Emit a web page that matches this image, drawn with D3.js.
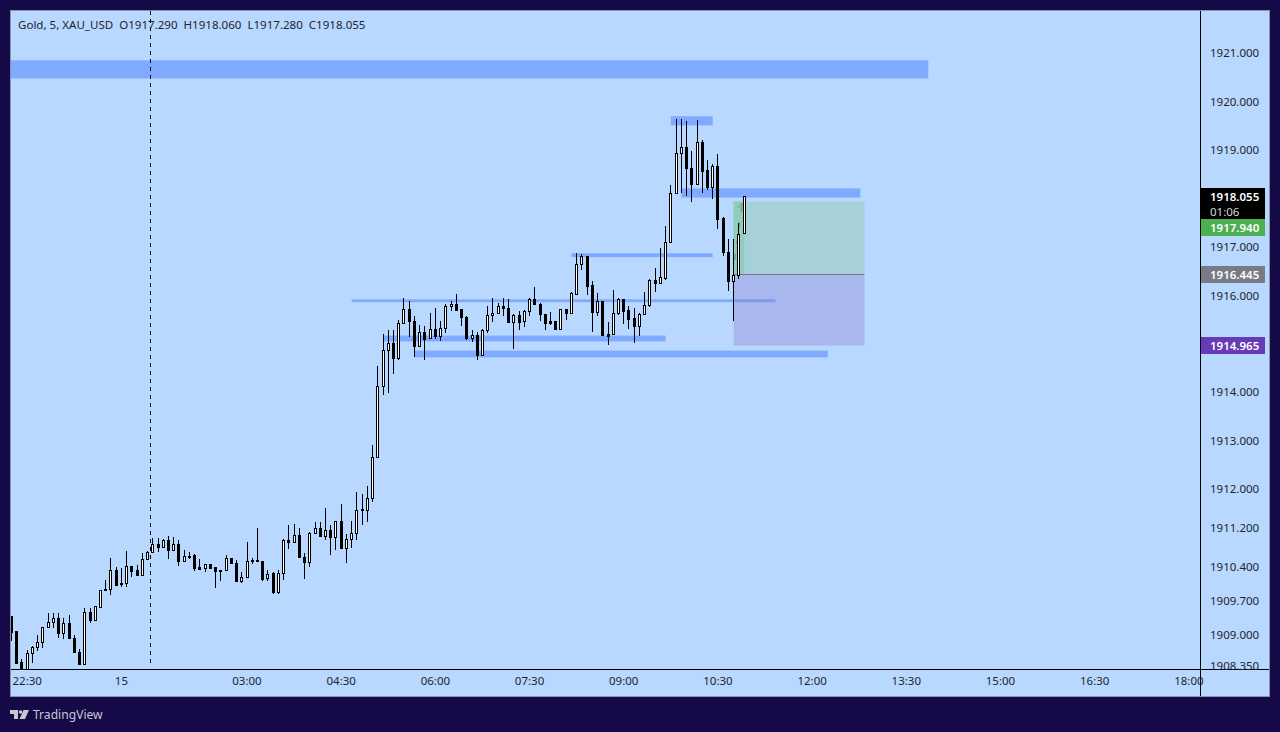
<!DOCTYPE html>
<html><head><meta charset="utf-8">
<script src="https://cdn.jsdelivr.net/npm/d3@7/dist/d3.min.js"></script>
<style>html,body{margin:0;padding:0;background:#150a47;overflow:hidden}svg{display:block}text{font-family:"Noto Sans",sans-serif}</style>
</head><body><svg id="c" width="1280" height="732"></svg>
<script>
const firstBar = -45;
const opens = [1909.37,1909.06,1908.42,1908.27,1908.61,1908.73,1908.84,1909.15,1909.25,1909.34,
1909.02,1909.24,1908.93,1908.64,1908.38,1909.46,1909.30,1909.57,1909.94,1909.93,
1910.33,1910.07,1910.06,1910.41,1910.32,1910.22,1910.55,1910.70,1910.87,1910.80,
1910.95,1910.74,1910.87,1910.51,1910.61,1910.63,1910.40,1910.37,1910.46,1910.39,
1910.34,1910.33,1910.58,1910.48,1910.11,1910.18,1910.52,1910.53,1910.52,1910.16,
1910.26,1909.88,1910.27,1910.95,1910.90,1911.05,1910.60,1910.49,1911.09,1911.20,
1911.03,1911.16,1911.01,1911.34,1910.78,1910.96,1911.09,1911.57,1911.56,1911.81,
1912.67,1914.13,1914.88,1915.02,1914.70,1915.42,1915.72,1915.48,1914.95,1915.25,
1915.12,1915.31,1915.17,1915.32,1915.78,1915.83,1915.71,1915.56,1915.12,1915.19,
1914.77,1915.28,1915.59,1915.64,1915.79,1915.75,1915.45,1915.60,1915.47,1915.68,
1915.93,1915.83,1915.62,1915.48,1915.48,1915.30,1915.72,1915.63,1916.03,1916.65,
1916.82,1916.21,1915.65,1915.89,1915.21,1915.20,1915.63,1915.93,1915.69,1915.54,
1915.37,1915.61,1915.80,1916.32,1916.25,1916.36,1917.11,1918.12,1918.95,1919.07,
1918.64,1918.30,1919.16,1918.58,1918.23,1918.68,1917.59,1916.90,1916.30,1916.43,1917.29];
const highs = [1909.39,1909.06,1908.50,1908.67,1908.77,1908.99,1909.16,1909.45,1909.45,1909.45,
1909.34,1909.40,1908.99,1908.70,1909.55,1909.55,1909.59,1909.92,1910.13,1910.58,
1910.40,1910.37,1910.73,1910.42,1910.44,1910.69,1910.73,1911.00,1911.00,1910.97,
1911.04,1911.02,1910.94,1910.75,1910.70,1910.67,1910.55,1910.45,1910.46,1910.39,
1910.34,1910.63,1910.58,1910.54,1910.28,1910.90,1910.58,1911.19,1910.52,1910.34,
1910.28,1910.34,1910.98,1911.25,1911.28,1911.19,1910.68,1911.12,1911.33,1911.33,
1911.62,1911.25,1911.34,1911.70,1911.08,1911.35,1911.95,1911.89,1912.07,1912.92,
1914.55,1915.21,1915.28,1915.28,1915.50,1915.95,1915.89,1915.57,1915.38,1915.36,
1915.63,1915.73,1915.48,1915.83,1915.88,1916.02,1915.71,1915.58,1915.29,1915.24,
1915.31,1915.79,1915.94,1915.85,1915.94,1915.93,1915.62,1915.67,1915.70,1915.95,
1916.18,1915.85,1915.62,1915.65,1915.48,1915.72,1915.72,1916.06,1916.88,1916.86,
1916.82,1916.29,1916.04,1915.89,1915.46,1916.12,1915.95,1915.93,1915.79,1915.73,
1915.64,1916.08,1916.34,1916.56,1916.97,1917.43,1918.27,1919.65,1919.64,1919.60,
1918.98,1919.62,1919.20,1918.79,1918.72,1918.93,1917.61,1917.16,1917.16,1917.49,1918.06];
const lows = [1908.89,1908.40,1908.27,1908.27,1908.44,1908.67,1908.75,1909.15,1909.15,1908.94,
1908.92,1908.92,1908.63,1908.38,1908.38,1909.25,1909.30,1909.56,1909.91,1909.83,
1910.01,1909.99,1909.99,1910.20,1910.22,1910.22,1910.55,1910.70,1910.72,1910.80,
1910.57,1910.74,1910.43,1910.51,1910.57,1910.32,1910.35,1910.30,1910.38,1909.97,
1910.13,1910.33,1910.47,1910.11,1910.08,1910.18,1910.47,1910.51,1910.13,1910.13,
1909.86,1909.86,1910.15,1910.79,1910.90,1910.59,1910.17,1910.42,1911.09,1911.03,
1910.98,1910.67,1910.77,1910.78,1910.50,1910.81,1910.96,1911.27,1911.35,1911.76,
1912.67,1913.97,1914.00,1914.39,1914.68,1915.42,1915.17,1914.74,1914.95,1914.68,
1915.12,1915.13,1915.07,1915.24,1915.69,1915.70,1915.38,1915.10,1915.06,1914.68,
1914.77,1915.24,1915.48,1915.64,1915.59,1915.45,1914.91,1915.30,1915.37,1915.59,
1915.82,1915.50,1915.30,1915.40,1915.30,1915.30,1915.52,1915.63,1916.03,1916.54,
1916.02,1915.26,1915.59,1915.18,1914.99,1915.20,1915.62,1915.43,1915.33,1915.03,
1915.19,1915.61,1915.78,1916.10,1916.25,1916.33,1917.11,1918.12,1918.13,1918.07,
1917.94,1918.30,1918.13,1918.19,1918.01,1917.40,1916.83,1916.12,1915.50,1916.35,1917.28];
const closes = [1909.05,1908.40,1908.27,1908.62,1908.75,1908.85,1909.15,1909.26,1909.34,1909.02,
1909.24,1908.92,1908.63,1908.38,1909.46,1909.29,1909.59,1909.92,1909.91,1910.33,
1910.03,1910.04,1910.41,1910.30,1910.22,1910.56,1910.71,1910.87,1910.80,1910.95,
1910.74,1910.87,1910.51,1910.62,1910.62,1910.37,1910.35,1910.45,1910.38,1910.30,
1910.30,1910.58,1910.47,1910.11,1910.19,1910.52,1910.53,1910.51,1910.15,1910.25,
1909.88,1910.27,1910.95,1910.90,1911.05,1910.59,1910.49,1911.10,1911.20,1911.03,
1911.16,1911.01,1911.34,1910.78,1910.97,1911.10,1911.57,1911.58,1911.82,1912.67,
1914.13,1914.88,1915.02,1914.70,1915.42,1915.72,1915.47,1914.95,1915.25,1915.11,
1915.31,1915.16,1915.33,1915.79,1915.83,1915.70,1915.55,1915.12,1915.19,1914.77,
1915.29,1915.60,1915.64,1915.79,1915.74,1915.45,1915.60,1915.46,1915.68,1915.93,
1915.82,1915.61,1915.44,1915.44,1915.30,1915.72,1915.63,1916.04,1916.65,1916.82,
1916.19,1915.66,1915.89,1915.18,1915.17,1915.64,1915.93,1915.68,1915.52,1915.36,
1915.62,1915.81,1916.32,1916.25,1916.37,1917.11,1918.12,1918.95,1919.07,1918.63,
1918.30,1919.16,1918.57,1918.23,1918.68,1917.57,1916.89,1916.30,1916.43,1917.27,1918.055];

const xTickBars = [-42,-24,0,18,36,54,72,90,108,126,144,162,180];
const xTickLabels = ["22:30","15","03:00","04:30","06:00","07:30","09:00","10:30","12:00","13:30","15:00","16:30","18:00"];
const yTicks = [1921,1920,1919,1917,1916,1914,1913,1912,1911.2,1910.4,1909.7,1909,1908.35];

// zones: from bar, to bar, top price, bottom price
const zoneStart = [-60,81,83,62,20,26,32];
const zoneEnd   = [130.2,89,117.2,89,101,80,111];
const zoneTop   = [1920.855,1919.70,1918.21,1916.87,1915.92,1915.17,1914.86];
const zoneBot   = [1920.48,1919.51,1918.02,1916.79,1915.86,1915.05,1914.72];

const posStart = 93, posEnd = 118, posNow = 95;
const target = 1917.94, entry = 1916.445, stop = 1914.965, last = 1918.055;
const cursorBar = -18.5;
const headerText = "Gold, 5, XAU_USD  O1917.290  H1918.060  L1917.280  C1918.055";

const svg = d3.select("#c");
const plot = {l:11,t:11,r:1200,b:669};
const X = d3.scaleLinear().domain([0,95]).range([247,744.1]);
const Y = d3.scaleLinear().domain([1916,1909]).range([295.4,634.4]);

svg.append("rect").attr("x",10.5).attr("y",10.5).attr("width",1259).attr("height",686)
  .attr("fill","#b8d8ff").attr("stroke","#8a93a8");
svg.append("defs").append("clipPath").attr("id","p").append("rect")
  .attr("x",plot.l).attr("y",plot.t).attr("width",plot.r-plot.l).attr("height",plot.b-plot.t);
const g = svg.append("g").attr("clip-path","url(#p)");

// zones
g.selectAll("rect.z").data(zoneStart).join("rect").attr("class","z")
  .attr("x",(d)=>X(d)).attr("width",(d,i)=>X(zoneEnd[i])-X(d))
  .attr("y",(d,i)=>Y(zoneTop[i])).attr("height",(d,i)=>Y(zoneBot[i])-Y(zoneTop[i]))
  .attr("fill","#80aaff");

// position tool
const bx = X(posStart), bw = X(posEnd)-bx;
g.append("rect").attr("x",bx).attr("width",bw).attr("y",Y(target)).attr("height",Y(entry)-Y(target))
  .attr("fill","#a6d1d8");
g.append("rect").attr("x",bx).attr("width",X(posNow)-bx).attr("y",Y(target)).attr("height",Y(entry)-Y(target))
  .attr("fill","#8fceb8");
g.append("rect").attr("x",bx).attr("width",bw).attr("y",Y(entry)).attr("height",Y(stop)-Y(entry))
  .attr("fill","#a9b7ee");
g.selectAll("rect.z2").data(zoneStart.filter((d,i)=>i===4)).join("rect")
  .attr("x",bx).attr("width",X(zoneEnd[4])-bx).attr("y",Y(zoneTop[4])).attr("height",Y(zoneBot[4])-Y(zoneTop[4]))
  .attr("fill","#8199ea");
g.append("line").attr("x1",bx).attr("x2",bx+bw).attr("y1",Math.round(Y(entry))+.5).attr("y2",Math.round(Y(entry))+.5)
  .attr("stroke","#787b86").attr("stroke-width",1);
g.append("line").attr("x1",X(posStart)+1).attr("y1",Y(entry)-14).attr("x2",X(posNow)-2).attr("y2",Y(target)+2)
  .attr("stroke","#787b86").attr("stroke-width",1).attr("stroke-dasharray","6,10");
g.append("path").attr("d",d3.line()([[X(posNow)-6,Y(target)+6],[X(posNow)-2,Y(target)+2],[X(posNow),Y(target)+6]]))
  .attr("fill","none").attr("stroke","#787b86");

// cursor
g.append("line").attr("x1",Math.round(X(cursorBar))+.5).attr("x2",Math.round(X(cursorBar))+.5)
  .attr("y1",plot.t).attr("y2",665).attr("stroke","#000").attr("stroke-dasharray","4,4");

// candles
const bars = opens.map((o,i)=>({k:i+firstBar,o,h:highs[i],l:lows[i],c:closes[i]}));
const cg = g.selectAll("g.bar").data(bars).join("g").attr("class","bar")
  .attr("transform",d=>`translate(${Math.floor(X(d.k))},0)`);
cg.append("line").attr("x1",.5).attr("x2",.5).attr("y1",d=>Math.round(Y(d.h))).attr("y2",d=>Math.round(Y(d.l))+1)
  .attr("stroke","#000");
cg.append("rect").attr("x",-.5).attr("width",2)
  .attr("y",d=>Math.round(Y(Math.max(d.o,d.c)))+.5)
  .attr("height",d=>Math.max(1,Math.round(Y(Math.min(d.o,d.c)))-Math.round(Y(Math.max(d.o,d.c)))))
  .attr("fill",d=>d.c>=d.o?"#fff":"#000").attr("stroke","#000");

// frame
svg.append("line").attr("x1",11).attr("x2",1269).attr("y1",669.5).attr("y2",669.5).attr("stroke","#000");
svg.append("line").attr("x1",1200.5).attr("x2",1200.5).attr("y1",11).attr("y2",696).attr("stroke","#000");

// axes
const ax = d3.axisBottom(X).tickValues(xTickBars).tickFormat((d,i)=>xTickLabels[i]).tickSize(0).tickPadding(0);
const gx = svg.append("g").attr("transform","translate(-0.5,677)").call(ax);
gx.select(".domain").remove();
gx.selectAll("text").attr("font-size",11.5).attr("fill","#1f2430").attr("dy","0.71em").style("font-family",'"Noto Sans",sans-serif');
const ay = d3.axisRight(Y).tickValues(yTicks).tickFormat(d3.format(".3f")).tickSize(0).tickPadding(0);
const gy = svg.append("g").attr("transform","translate(1210,0)").call(ay);
gy.select(".domain").remove();
gy.selectAll("text").attr("font-size",11.5).attr("fill","#1f2430").style("font-family",'"Noto Sans",sans-serif');

// price tags
const tagVals = [target,entry,stop];
const tagCol = ["#4caf50","#787b86","#673ab7"];
const tagY = [219,266,337];
svg.append("rect").attr("x",1201).attr("y",188).attr("width",64).attr("height",31).attr("fill","#000");
svg.append("text").attr("x",1210).attr("y",200.5).attr("font-size",11.5).attr("font-weight",600).attr("fill","#fff").text(last.toFixed(3));
svg.append("text").attr("x",1210).attr("y",215.5).attr("font-size",11.5).attr("fill","#d8d8d8").text("01:06");
tagVals.forEach((v,i)=>{
  svg.append("rect").attr("x",1201).attr("y",tagY[i]).attr("width",64).attr("height",17).attr("fill",tagCol[i]);
  svg.append("text").attr("x",1210).attr("y",tagY[i]+13).attr("font-size",11.5).attr("font-weight",600).attr("fill","#fff").text(v.toFixed(3));
});

// header
svg.append("text").attr("x",18).attr("y",29).attr("font-size",11.55).attr("fill","#1f2430")
  .attr("xml:space","preserve").style("white-space","pre").text(headerText);

// logo
const lg = svg.append("g").attr("fill","#c4c8d2");
lg.append("path").attr("d","M10 710h8v9h-4v-5h-4zM19.5 719l4-9h5.5l-4 9z");
lg.append("circle").attr("cx",20.5).attr("cy",712).attr("r",1.8);
svg.append("text").attr("x",33).attr("y",719).attr("font-size",12.1).attr("fill","#c4c8d2").text("TradingView");
</script></body></html>
